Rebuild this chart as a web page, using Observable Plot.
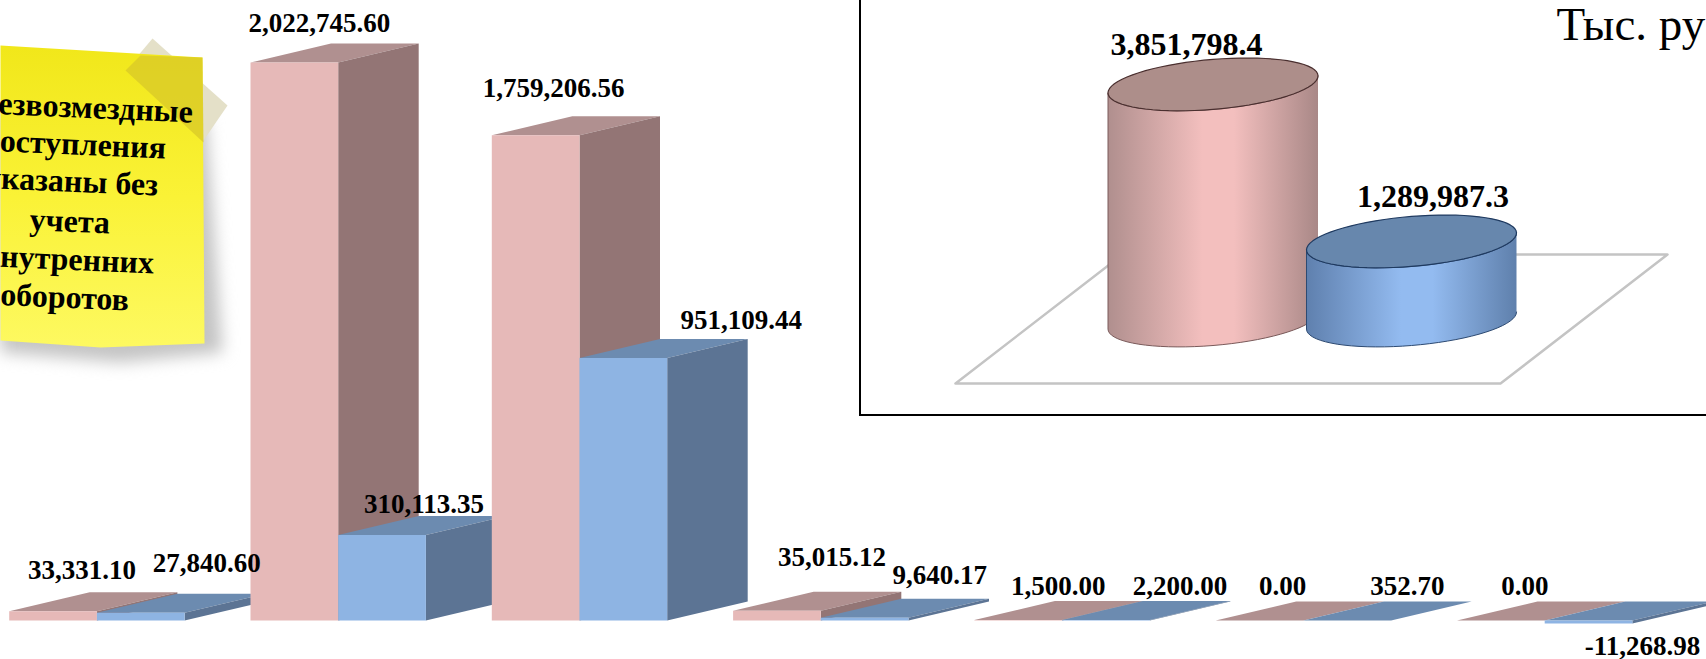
<!DOCTYPE html>
<html><head><meta charset="utf-8">
<script src="https://cdn.jsdelivr.net/npm/d3@7"></script>
<script src="https://cdn.jsdelivr.net/npm/@observablehq/plot@0.6"></script>
<style>
html,body{margin:0;padding:0;background:#fff;overflow:hidden}
#stage{position:relative;width:1706px;height:659px;overflow:hidden}
#stage svg{position:absolute;left:0;top:0;background:transparent}
#inset{position:absolute;left:859px;top:-3px;width:850px;height:417px;background:#fff;border-left:2px solid #000;border-bottom:2px solid #000}
</style></head><body><div id="stage"><div id="inset"></div></div>
<script>
const pinkValues = [33331.10, 2022745.60, 1759206.56, 35015.12, 1500.00, 0.00, 0.00];
const blueValues = [27840.60, 310113.35, 951109.44, 9640.17, 2200.00, 352.70, -11268.98];
const pinkLabels = ["33,331.10","2,022,745.60","1,759,206.56","35,015.12","1,500.00","0.00","0.00"];
const blueLabels = ["27,840.60","310,113.35","951,109.44","9,640.17","2,200.00","352.70","-11,268.98"];
const totalValues = [3851798.4, 1289987.3];
const totalLabels = ["3,851,798.4","1,289,987.3"];
const noteLines = ["Безвозмездные","поступления","указаны без","учета","внутренних","оборотов"];
const unitLabel = "Тыс. руб.";

// label layout (pixels from the bar's centre/top), separate from the values
const pinkNudge = [[29,-32],[25,-31],[18,-38.6],[55,-45.3],[40,-25],[23,-25.5],[24,-25.5]];
const blueNudge = [[66,-41.3],[42,-21.5],[118,-29],[75,-34.3],[74,-25],[60,-25.4],[54,31.5]];

const FONT = "'Liberation Serif','Times New Roman',serif";
const stage = document.getElementById("stage");

/* ---------- main 3-D column chart ---------- */
const W = 1706, H = 659, baseY = 620, left = 8.7, step = 241.3;
const k = 558 / 2022745.6;                // px per unit
const barW = 87.7 / step, depthX = 80.5 / step, depthY = 19 / k;
const faces = [];
function addFaces(i, v, xl, id, c) {
  const xr = xl + barW, top = Math.max(v, 0), bot = Math.min(v, 0);
  const poly = (name, fill, pts) => pts.forEach(([x, y]) => faces.push({id: `${id}${i}${name}`, x, y, fill}));
  poly("t", c.top, [[xl, top], [xr, top], [xr + depthX, top + depthY], [xl + depthX, top + depthY]]);
  poly("s", c.side, [[xr, bot], [xr + depthX, bot + depthY], [xr + depthX, top + depthY], [xr, top]]);
  poly("f", c.front, [[xl, bot], [xr, bot], [xr, top], [xl, top]]);
}
const pinkC = {front: "#e6b9b8", side: "#937575", top: "#b09090"};
const blueC = {front: "#8eb4e3", side: "#5c7494", top: "#6c8bb0"};
const labels = [];
pinkValues.forEach((v, i) => {
  addFaces(i, v, i, "p", pinkC);
  addFaces(i, blueValues[i], i + barW, "b", blueC);
  const lab = (val, txt, xl, n) => labels.push({
    x: xl + barW / 2 + n[0] / step,
    y: val - n[1] / k,
    txt
  });
  lab(v, pinkLabels[i], i, pinkNudge[i]);
  lab(blueValues[i], blueLabels[i], i + barW, blueNudge[i]);
});
const main = Plot.plot({
  width: W, height: H, margin: 0, axis: null,
  style: {background: "transparent"},
  x: {domain: [0, 7], range: [left, left + 7 * step]},
  y: {domain: [(baseY - H) / k, baseY / k], range: [H, 0]},
  color: {type: "identity"},
  marks: [
    Plot.line(faces, {x: "x", y: "y", z: "id", fill: "fill", stroke: null, curve: "linear"}),
    Plot.text(labels, {x: "x", y: "y", text: "txt", fontFamily: FONT, fontWeight: "bold", fontSize: 27,
      fill: "#000", textAnchor: "middle", lineAnchor: "bottom"})
  ]
});
stage.insertBefore(main, stage.firstChild);

/* ---------- sticky note ---------- */
const toPts = (a) => a.map(([x, y]) => ({x, y}));
const notePoly = toPts([[0,45],[202,57],[204,343],[100,347],[0,340]]);
const tapeOut = toPts([[152,38],[227,105],[201,143],[125,70]]);
const tapeIn = toPts([[125,70],[140,55],[202,57],[203,142]]);
const shadow = toPts([[0,110],[206,120],[222,352],[120,362],[0,352]]);
const noteText = noteLines.map((t, i) => ({t, x: [192,165,157,109,153,128][i], y: [122,158,195,233,273,310][i]}));
const noteDefs = () => {
  const d = d3.create("svg:defs");
  const g = d.append("linearGradient").attr("id","noteG").attr("x1",0).attr("y1",0).attr("x2",0).attr("y2",1);
  g.append("stop").attr("offset","0%").attr("stop-color","#f1e71a");
  g.append("stop").attr("offset","50%").attr("stop-color","#faf236");
  g.append("stop").attr("offset","100%").attr("stop-color","#fdf961");
  return d.node();
};
const noteSvg = Plot.plot({
  width: W, height: H, margin: 0, axis: null, style: {background: "transparent"},
  x: {type: "identity"}, y: {type: "identity"},
  marks: [
    noteDefs,
    Plot.line(shadow, {x:"x", y:"y", fill:"#c4c4c4", stroke:null, imageFilter:"blur(8px)"}),
    Plot.line(tapeOut, {x:"x", y:"y", fill:"#e4e0c8", stroke:null}),
    Plot.line(notePoly, {x:"x", y:"y", fill:"url(#noteG)", stroke:null}),
    Plot.line(tapeIn, {x:"x", y:"y", fill:"#d8c828", stroke:null, fillOpacity:0.75}),
    Plot.text(noteText, {x:"x", y:"y", text:"t", rotate:2.5, fontFamily:FONT, fontWeight:"bold", fontSize:32,
      fill:"#000", textAnchor:"end", lineAnchor:"bottom"})
  ]
});
stage.appendChild(noteSvg);

/* ---------- inset with the two cylinders ---------- */
const iW = 850, iH = 417, iBase = 323, cx0 = 351.5, iStep = 198.5, a = 105, yk = 6.13e-5;
const px = (p) => (p - cx0) / iStep, py = (p) => (iBase - p) / yk;
const shear = 8.5, rY = 25;
function ringPt(c, v, t) {
  return {x: c + (a * Math.cos(t)) / iStep, y: v + (shear * Math.cos(t) - rY * Math.sin(t)) / yk};
}
const bodies = [[], []], tops = [[], []];
totalValues.forEach((v, i) => {
  for (let d = 0; d <= 180; d += 5) bodies[i].push(ringPt(i, v, d * Math.PI / 180));
  for (let d = 180; d >= 0; d -= 5) bodies[i].push(ringPt(i, 0, d * Math.PI / 180));
  for (let d = 0; d <= 360; d += 5) tops[i].push(ringPt(i, v, d * Math.PI / 180));
});
const floor = toPts([[94,386],[639,386],[806,257],[261,257],[94,386]]).map(p => ({x: px(p.x), y: py(p.y)}));
const insetDefs = () => {
  const d = d3.create("svg:defs");
  [["#b08f8e","#f3bfbe","#a98887"],["#5f80ae","#93bbf0","#5f80ac"]].forEach(([e,c,r],i) => {
    const g = d.append("linearGradient").attr("id","cyl"+i).attr("x1",0).attr("y1",0).attr("x2",1).attr("y2",0);
    g.append("stop").attr("offset","0%").attr("stop-color",e);
    g.append("stop").attr("offset","45%").attr("stop-color",c);
    g.append("stop").attr("offset","60%").attr("stop-color",c);
    g.append("stop").attr("offset","100%").attr("stop-color",r);
  });
  return d.node();
};
const insetLabelDx = [-26.5, 21.5], insetLabelUp = [29, 34];
const insetLabels = totalValues.map((v, i) => ({x: i + insetLabelDx[i] / iStep, y: v + insetLabelUp[i] / yk, t: totalLabels[i]}));
const insetSvg = Plot.plot({
  width: iW, height: iH, margin: 0, axis: null, style: {background: "transparent", left: "0", top: "0"},
  x: {domain: [px(0), px(iW)], range: [0, iW]},
  y: {domain: [py(iH), py(0)], range: [iH, 0]},
  marks: [
    insetDefs,
    Plot.line(floor, {x:"x", y:"y", stroke:"#c4c4c4", strokeWidth:2.5, fill:"#fff", curve:"linear"}),
    Plot.line(bodies[0], {x:"x", y:"y", fill:"url(#cyl0)", stroke:"#7a5a5a", strokeWidth:1}),
    Plot.line(tops[0], {x:"x", y:"y", fill:"#ad8e8a", stroke:"#4a2f2f", strokeWidth:1.2}),
    Plot.line(bodies[1], {x:"x", y:"y", fill:"url(#cyl1)", stroke:"#2d4a72", strokeWidth:1}),
    Plot.line(tops[1], {x:"x", y:"y", fill:"#6787ad", stroke:"#1f3a60", strokeWidth:1.2}),
    Plot.text(insetLabels, {x:"x", y:"y", text:"t", fontFamily:FONT, fontWeight:"bold", fontSize:32, fill:"#000",
      textAnchor:"middle", lineAnchor:"bottom"}),
    Plot.text([{x: px(695), y: py(42), t: unitLabel}], {x:"x", y:"y", text:"t", fontFamily:FONT, fontSize:47, fill:"#000",
      textAnchor:"start", lineAnchor:"bottom"})
  ]
});
document.getElementById("inset").appendChild(insetSvg);
</script></body></html>
